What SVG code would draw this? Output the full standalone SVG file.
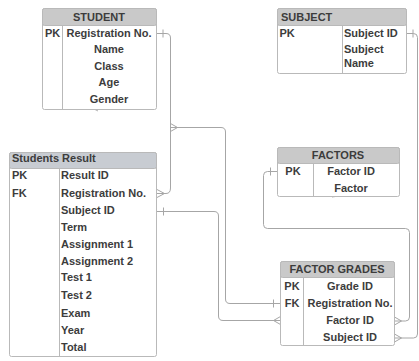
<svg xmlns="http://www.w3.org/2000/svg" width="419" height="361" viewBox="0 0 419 361">
<style>
.box{fill:#ffffff;stroke:#b9b9b9;stroke-width:1}
.hdr{fill:#c9c9c9;stroke:#b9b9b9;stroke-width:1}
.hdr2{fill:#c8ccd2;stroke:#b9b9b9;stroke-width:1}
.div{stroke:#b9b9b9;stroke-width:1;fill:none}
text{font-family:"Liberation Sans",Arial,sans-serif;font-size:11px;font-weight:bold;fill:#3c3c3c}
.c{text-anchor:middle}
.ln{fill:none;stroke:#a6a6a6;stroke-width:1}
.jk{fill:none;stroke:#b0b0b0;stroke-width:1}
</style>
<rect width="419" height="361" fill="#ffffff"/>

<g id="connectors">
<path class="ln" d="M156.5,33.5 H166 Q170.5,33.5 170.5,38 V188 Q170.5,193.5 166,193.5 H157"/>
<path class="ln" d="M163,29.5 V37.5"/>
<path class="ln" d="M157,189.5 L164.5,193.5 L157,197.5"/>

<path class="ln" d="M170.5,127.5 H221 Q225.5,127.5 225.5,132 V299 Q225.5,303.5 230,303.5 H280.5"/>
<path class="ln" d="M170.5,123.5 L177.5,127.5 L170.5,131.5"/>
<path class="ln" d="M273.5,299.5 V307.5"/>

<path class="ln" d="M156.5,211.5 H214 Q218.5,211.5 218.5,216 V316 Q218.5,320.5 223,320.5 H280.5"/>
<path class="ln" d="M163.5,207.5 V215.5"/>
<path class="ln" d="M280.5,316.5 L273.5,320.5 L280.5,324.5"/>

<path class="ln" d="M277.5,171.5 H267.5 Q263.5,171.5 263.5,175.5 V224.5 Q263.5,228.5 267.5,228.5 H405.5 Q409.5,228.5 409.5,232.5 V317 Q409.5,321 405.5,321 H394.5"/>
<path class="ln" d="M270.5,167.5 V175.5"/>
<path class="ln" d="M394.5,317 L401.5,321 L394.5,325"/>

<path class="ln" d="M406.5,33.5 H413.5 Q417.5,33.5 417.5,37.5 V334 Q417.5,338 413.5,338 H394.5"/>
<path class="ln" d="M413,29.5 V37.5"/>
<path class="ln" d="M394.5,334 L401.5,338 L394.5,342"/>

<path class="jk" d="M155,63 L149,67 L155,71 M149,67 H156"/>
<path class="jk" d="M98,104.5 L92,108 L98,111 M92,108 H99"/>
<path class="jk" d="M338,192 L332,197 M335,191 L332,197 L339,196"/>
</g>

<g id="student">
<rect class="box" x="42.5" y="8.5" width="114" height="101" rx="2"/>
<rect class="hdr" x="42.5" y="8.5" width="114" height="17" rx="2"/>
<line class="div" x1="62.5" y1="25.5" x2="62.5" y2="109.5"/>
<text class="c" x="99" y="21">STUDENT</text>
<text x="45" y="37">PK</text>
<text class="c" x="109" y="37">Registration No.</text>
<text class="c" x="109" y="53">Name</text>
<text class="c" x="109" y="70">Class</text>
<text class="c" x="109" y="86">Age</text>
<text class="c" x="109" y="103">Gender</text>
</g>

<g id="subject">
<rect class="box" x="277.5" y="8.5" width="129" height="65" rx="2"/>
<rect class="hdr" x="277.5" y="8.5" width="129" height="17" rx="2"/>
<line class="div" x1="342.5" y1="25.5" x2="342.5" y2="73.5"/>
<text x="281" y="21">SUBJECT</text>
<text x="279.5" y="37">PK</text>
<text x="344" y="37">Subject ID</text>
<text x="344" y="53">Subject</text>
<text x="344" y="67">Name</text>
</g>

<g id="students-result">
<rect class="box" x="9.5" y="152.5" width="147" height="204" rx="2"/>
<rect class="hdr2" x="9.5" y="152.5" width="147" height="16" rx="2"/>
<line class="div" x1="59.5" y1="168.5" x2="59.5" y2="356.5"/>
<text x="12" y="162">Students Result</text>
<text x="12" y="179">PK</text>
<text x="12" y="197">FK</text>
<text x="61" y="179">Result ID</text>
<text x="61" y="197">Registration No.</text>
<text x="61" y="214">Subject ID</text>
<text x="61" y="231">Term</text>
<text x="61" y="248">Assignment 1</text>
<text x="61" y="265">Assignment 2</text>
<text x="61" y="281">Test 1</text>
<text x="61" y="299">Test 2</text>
<text x="61" y="317">Exam</text>
<text x="61" y="334">Year</text>
<text x="61" y="351">Total</text>
</g>

<g id="factors">
<rect class="box" x="277.5" y="147.5" width="122" height="49" rx="2"/>
<rect class="hdr" x="277.5" y="147.5" width="122" height="16" rx="2"/>
<line class="div" x1="313.5" y1="163.5" x2="313.5" y2="196.5"/>
<text class="c" x="338" y="159">FACTORS</text>
<text class="c" x="293" y="175">PK</text>
<text class="c" x="351" y="175">Factor ID</text>
<text class="c" x="351" y="192">Factor</text>
</g>

<g id="factor-grades">
<rect class="box" x="280.5" y="261.5" width="114" height="84" rx="2"/>
<rect class="hdr" x="280.5" y="261.5" width="114" height="16" rx="2"/>
<line class="div" x1="303.5" y1="277.5" x2="303.5" y2="345.5"/>
<text class="c" x="337" y="273">FACTOR GRADES</text>
<text class="c" x="292" y="290">PK</text>
<text class="c" x="292" y="307">FK</text>
<text class="c" x="350" y="290">Grade ID</text>
<text class="c" x="350" y="307">Registration No.</text>
<text class="c" x="350" y="324">Factor ID</text>
<text class="c" x="350" y="341">Subject ID</text>
</g>
</svg>
